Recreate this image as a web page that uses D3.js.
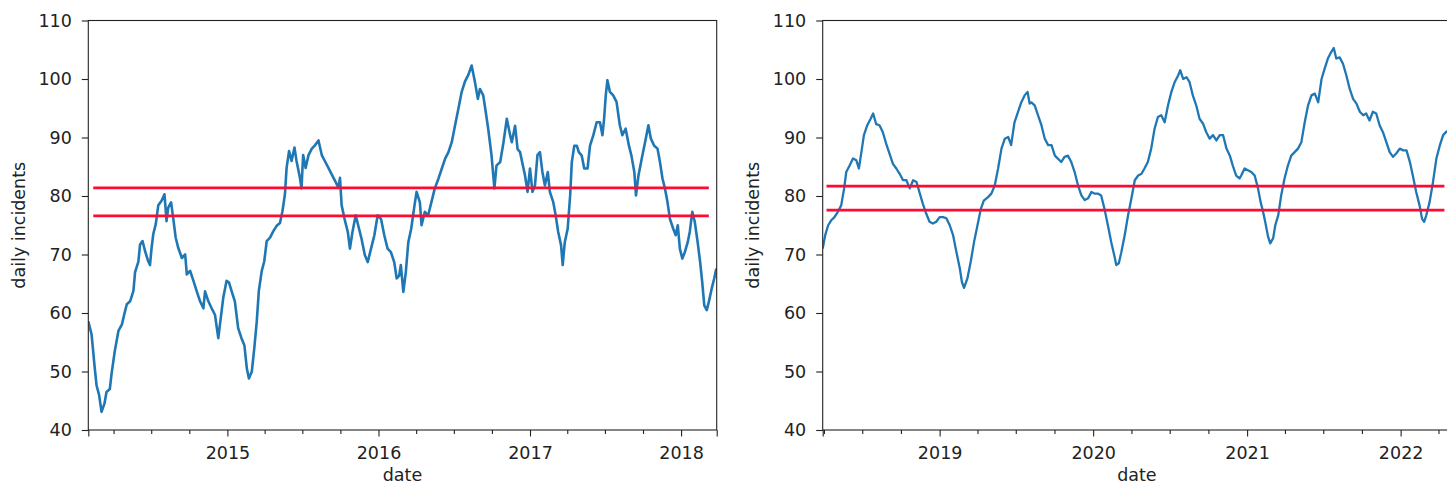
<!DOCTYPE html>
<html><head><meta charset="utf-8">
<script src="https://cdn.jsdelivr.net/npm/d3@7"></script>
<style>
body{margin:0;background:#fff}
svg{display:block}
text{font-family:"DejaVu Sans",sans-serif}
</style>
</head><body>
<svg id="c" width="1447" height="485"></svg>
<script>
// ---------- data ----------
const yTicks = [40, 50, 60, 70, 80, 90, 100, 110];
const leftStart = "2014-01-30", leftEnd = "2018-03-28";
const rightStart = "2018-03-29", rightEnd = "2022-05-01";
const leftYears = ["2015", "2016", "2017", "2018"];
const rightYears = ["2019", "2020", "2021", "2022"];

// day offsets from panel start, and daily incidents (rolling)
const leftDays = [0,8,15,20,26,32,39,44,52,56,64,73,81,87,93,101,109,113,121,125,
131,137,145,149,153,157,163,169,177,184,189,193,200,205,211,217,226,234,238,246,
254,262,270,278,282,290,298,306,314,318,326,334,340,346,354,362,370,377,383,388,
395,401,407,412,419,425,431,439,447,455,463,469,475,479,485,491,498,503,511,
515,519,525,532,540,548,556,564,572,580,588,596,604,608,612,619,627,632,638,646,
654,660,668,675,683,691,699,707,715,723,731,739,745,751,755,761,767,773,780,788,
793,801,805,813,821,829,837,846,854,862,870,878,886,894,902,910,918,926,934,941,
946,954,960,966,974,981,986,995,1003,1011,1019,
1023,1031,1037,1043,1048,1055,1061,1067,1073,1079,1085,1091,1097,1103,1110,1115,1123,1129,1135,1142,
1146,1151,1158,1164,1168,1174,1180,1185,1192,1198,1206,1212,1220,1228,1236,1242,1246,1250,1254,1260,
1268,1276,1284,1290,1298,1306,1312,1319,1323,1329,1337,1345,1353,1359,1367,1375,1381,1387,1393,1399,
1405,1413,1419,1424,1429,1435,1441,1448,1453,1459,1465,1472,1478,1483,1488,1494,1499,1506,1512,1517];
const leftValues = [58.6,56.3,51,47.6,46,43.1,44.5,46.5,47,49.5,53.5,57,58,59.8,61.5,62,63.8,67,68.8,71.7,
72.3,70.6,68.8,68.2,71.2,73.5,75.2,78.4,79.2,80.3,75.7,78,78.9,76.3,72.9,71.2,69.4,70,66.6,67.2,
65.5,63.7,62,60.8,63.7,62,60.8,59.7,55.7,58,62.6,65.5,65.2,63.8,62,57.4,55.7,54.5,50.5,48.8,
50,54,58.6,63.8,67.2,68.8,72.3,72.9,74,74.9,75.4,77.4,80.3,84.8,87.7,86,88.3,86,83.2,
81.3,87,84.8,87,88.1,88.7,89.5,87,85.9,84.8,83.7,82.6,81.4,83.1,78.4,76.1,73.8,71,73.8,76.7,
74.4,72.7,69.9,68.7,71,73.3,76.7,76.1,73.3,71,70.4,68.7,65.9,66.4,68.2,63.6,67,72.1,74.4,78.4,
80.7,78.9,75,77.3,76.7,79,81.3,83,84.7,86.4,87.5,89.2,92.1,94.9,97.8,99.6,100.7,102.3,99.5,96.6,
98.3,97.2,94.4,91.5,87,81.3,85.2,85.8,89.2,93.2,90.4,
89.2,92,88,87.5,85.8,83.5,80.7,84.7,80.7,81.8,87,87.5,84.1,81.8,84.1,80.7,79,76.7,73.9,71.6,
68.2,72.1,74.4,80.1,85.8,88.6,88.6,87.5,86.9,84.7,84.7,88.6,90.4,92.6,92.6,90.4,93.2,97.2,99.8,97.8,
97.2,96.1,92.1,90.4,91.5,88.6,86.9,84.1,80.1,83.5,86.4,89.2,92.1,89.8,88.6,88.1,85.8,83,81.3,79,
76.1,74.4,73.3,75,71,69.3,70.4,72.1,73.9,77.3,75.6,72.1,68.7,65.3,61.3,60.5,61.9,64.2,65.9,67.6];

const rightDays = [0,6,13,21,28,36,44,51,56,64,72,80,86,92,98,106,114,120,127,135,
143,151,159,167,175,183,191,199,207,215,223,231,238,246,254,262,270,278,286,294,
302,310,318,326,331,336,344,352,360,368,376,383,393,401,409,417,425,433,441,448,
456,464,472,480,487,492,
496,504,512,520,528,536,544,552,559,567,575,583,591,599,607,615,623,631,639,647,
655,662,670,678,686,693,698,704,710,718,726,734,742,750,758,765,773,781,789,797,
805,813,821,829,837,845,850,857,865,872,880,888,896,904,912,920,928,936,944,952,
960,968,975,983,991,
995,1003,1011,1019,1027,1035,1041,1047,1052,1059,1064,1071,1076,1083,1090,1098,1106,1114,1122,1130,
1138,1146,1154,1162,1170,1178,1186,1193,1201,1209,1215,1221,1229,1237,1245,1253,1261,1269,1277,1285,
1292,1300,1308,1316,1324,1332,1340,1348,1356,1364,1372,1380,1388,1396,1403,1411,1419,1425,1430,1435,
1443,1451,1459,1467,1475,1483,1493];
const rightValues = [71,73.3,75,75.9,76.4,77.3,78.4,81.3,84.1,85.2,86.4,86.1,84.7,87.5,90.4,92.1,93.2,94.1,92.3,92.1,
90.9,88.9,87.2,85.5,84.7,83.8,82.7,82.7,81.3,82.7,82.4,80.4,78.7,77,75.6,75.3,75.6,76.4,76.4,76.2,
75,73.3,70.4,67.6,65.3,64.3,65.9,68.8,72.2,75,77.8,79.2,79.8,80.4,81.8,84.7,88.1,89.8,90.1,88.7,
92.6,94.3,96,97.2,97.8,95.8,
96,95.5,93.8,92.1,89.8,88.7,88.7,86.9,86.4,85.8,86.7,86.9,85.8,84.1,81.8,80.1,79.3,79.6,80.7,80.4,
80.4,80.1,77.8,75,72.1,69.9,68.2,68.5,70.4,73.3,76.7,79.6,82.7,83.5,83.8,84.7,85.8,88.1,91.5,93.5,
93.8,92.6,95.5,97.8,99.5,100.6,101.5,100,100.3,99.5,97.2,95.5,93.2,92.4,90.9,89.8,90.4,89.5,90.4,90.4,
88.1,86.9,85.2,83.5,83,
83.5,84.7,84.4,84.1,83.5,81.3,79,77.3,75.6,73,71.9,72.8,75,76.7,80.1,83,85.2,86.9,87.5,88.1,
89.2,92.6,95.5,97.2,97.5,96,100,101.7,103.5,104.6,105.3,103.5,103.7,102.6,100.6,98.3,96.6,95.8,94.4,93.8,
94.1,92.9,94.4,94.1,92.1,90.9,89.2,87.5,86.7,87.3,88.1,87.8,87.8,85.8,83.5,80.7,78.4,76.1,75.6,76.7,
79,82.4,86.4,88.6,90.4,91,91.2];

// threshold lines: levels and day span
const leftThresholds = [81.4, 76.6];
const rightThresholds = [81.7, 77.6];
const leftThresholdSpan = [12, 1499];
const rightThresholdSpan = [9, 1478];

// ---------- drawing ----------
const parse = d3.utcParse("%Y-%m-%d");
const svg = d3.select("#c");
const plotTop = 20.5, plotBottom = 430;
const y = d3.scaleLinear().domain([40, 110]).range([plotBottom, plotTop]);

function panel(cfg) {
  const s0 = parse(cfg.start), s1 = parse(cfg.end);
  const x = d3.scaleUtc().domain([s0, s1]).range([cfg.left, cfg.left + cfg.width]);
  const g = svg.append("g");
  const clipId = "clip" + cfg.id;
  svg.append("clipPath").attr("id", clipId).append("rect")
    .attr("x", cfg.left).attr("y", plotTop).attr("width", cfg.width).attr("height", plotBottom - plotTop);

  const pts = cfg.days.map((d, i) => ({date: d3.utcDay.offset(s0, d), v: cfg.values[i]}));
  const line = d3.line().x(d => x(d.date)).y(d => y(d.v));
  g.append("path").datum(pts).attr("clip-path", `url(#${clipId})`)
    .attr("fill", "none").attr("stroke", "#1f77b4").attr("stroke-width", cfg.lw)
    .attr("stroke-linejoin", "round").attr("d", line);

  cfg.thresholds.forEach(t => {
    const seg = [{date: d3.utcDay.offset(s0, cfg.span[0]), v: t}, {date: d3.utcDay.offset(s0, cfg.span[1]), v: t}];
    g.append("path").datum(seg).attr("fill", "none").attr("stroke", "#ff0a33")
      .attr("stroke-width", 2.7).attr("d", line);
  });

  g.append("rect").attr("x", cfg.left).attr("y", plotTop).attr("width", cfg.width).attr("height", plotBottom - plotTop)
    .attr("fill", "none").attr("stroke", "#222").attr("stroke-width", 1.1);

  const years = cfg.years.map(s => parse(s + "-01-01"));
  const quarters = d3.utcMonth.every(3).range(s0, s1).filter(d => d.getUTCMonth() !== 0);

  const minor = g.append("g").attr("transform", `translate(0,${plotBottom})`)
    .call(d3.axisBottom(x).tickValues(quarters).tickSize(4).tickFormat(""));
  const edges = g.append("g").attr("transform", `translate(0,${plotBottom})`)
    .call(d3.axisBottom(x).tickValues([s0, s1]).tickSize(6.5).tickFormat(""));
  const major = g.append("g").attr("transform", `translate(0,${plotBottom})`)
    .call(d3.axisBottom(x).tickValues(years).tickSize(6.5).tickPadding(10).tickFormat(d3.utcFormat("%Y")));
  const yax = g.append("g").attr("transform", `translate(${cfg.left},0)`)
    .call(d3.axisLeft(y).tickValues(yTicks).tickSize(6.5).tickPadding(10));

  [minor, edges, major, yax].forEach(a => {
    a.select(".domain").remove();
    a.selectAll("line").attr("stroke", "#222").attr("stroke-width", 1.1);
    a.selectAll("text").attr("fill", "#222").style("font-size", "17.5px")
      .style("font-family", '"DejaVu Sans", sans-serif');
  });

  g.append("text").attr("x", cfg.left + cfg.width / 2).attr("y", 481)
    .attr("text-anchor", "middle").attr("fill", "#222").style("font-size", "17.5px").text("date");
  g.append("text").attr("transform", `translate(${cfg.left - 69.8},${(plotTop + plotBottom) / 2}) rotate(-90)`)
    .attr("text-anchor", "middle").attr("dy", "0.35em").attr("fill", "#222")
    .style("font-size", "17.5px").text("daily incidents");
}

panel({id: "L", left: 88.3, width: 628.4, start: leftStart, end: leftEnd, years: leftYears, lw: 2.6,
  days: leftDays, values: leftValues, thresholds: leftThresholds, span: leftThresholdSpan});
panel({id: "R", left: 822.7, width: 628.4, start: rightStart, end: rightEnd, years: rightYears, lw: 2.3,
  days: rightDays, values: rightValues, thresholds: rightThresholds, span: rightThresholdSpan});
</script>
</body></html>
